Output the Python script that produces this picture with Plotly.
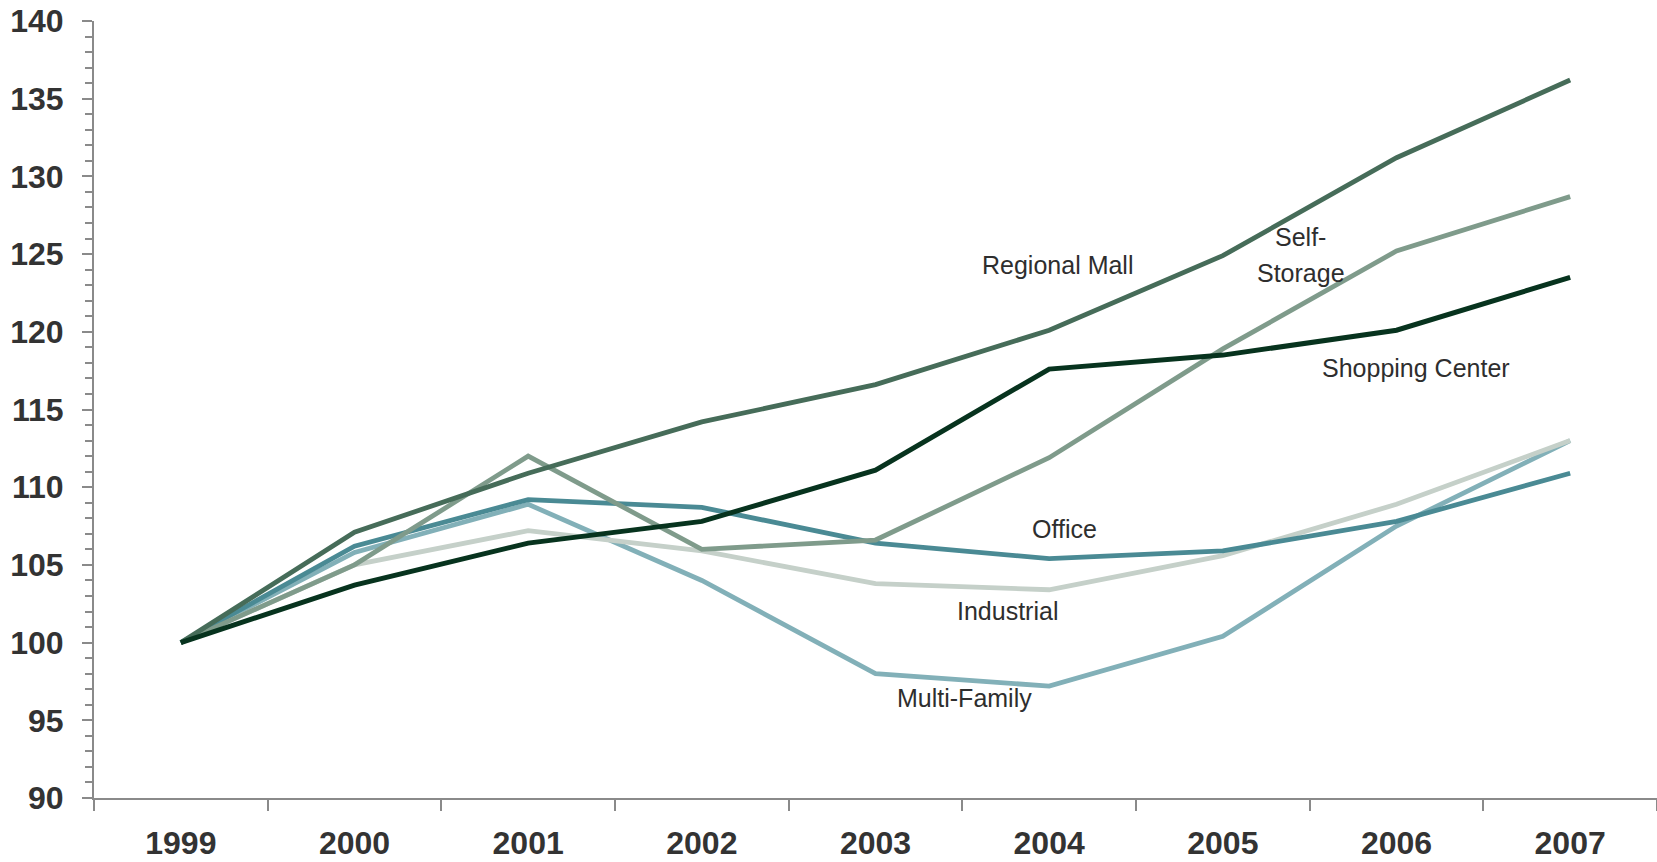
import plotly.graph_objects as go

# Index values by property type, 1999 = 100
years = ["1999", "2000", "2001", "2002", "2003", "2004", "2005", "2006", "2007"]

multi_family = [100, 105.8, 108.9, 104.0, 98.0, 97.2, 100.4, 107.5, 113.0]
industrial = [100, 105.0, 107.2, 105.9, 103.8, 103.4, 105.6, 108.9, 113.0]
office = [100, 106.2, 109.2, 108.7, 106.4, 105.4, 105.9, 107.8, 110.9]
self_storage = [100, 105.0, 112.0, 106.0, 106.6, 111.9, 118.9, 125.2, 128.7]
regional_mall = [100, 107.1, 110.9, 114.2, 116.6, 120.1, 124.9, 131.2, 136.2]
shopping_center = [100, 103.7, 106.4, 107.8, 111.1, 117.6, 118.5, 120.1, 123.5]

series = [
    ("Multi-Family", multi_family, "#82B0B8", 4.8),
    ("Industrial", industrial, "#C5D0C9", 4.8),
    ("Office", office, "#4A8A94", 4.8),
    ("Self-Storage", self_storage, "#7F9B8B", 4.8),
    ("Regional Mall", regional_mall, "#466C59", 4.8),
    ("Shopping Center", shopping_center, "#07331E", 5.0),
]

# In-chart series labels: (text, x category position, y value)
labels = [
    ("Regional Mall", 5.05, 124.3),
    ("Self-", 6.45, 126.1),
    ("Storage", 6.45, 123.8),
    ("Shopping Center", 7.11, 117.7),
    ("Office", 5.09, 107.3),
    ("Industrial", 4.76, 102.05),
    ("Multi-Family", 4.51, 96.45),
]

fig = go.Figure()
for name, vals, color, w in series:
    fig.add_trace(go.Scatter(
        x=years, y=vals, name=name, mode="lines",
        line=dict(color=color, width=w),
        showlegend=False, hoverinfo="skip",
    ))

for text, lx, ly in labels:
    fig.add_annotation(
        x=lx, y=ly, xref="x", yref="y", text=text, showarrow=False,
        font=dict(family="Liberation Sans, Arial, sans-serif", size=25, color="#2E2E2E"),
    )

axis_grey = "#8A8A8A"
tick_font = dict(family="Liberation Sans, Arial, sans-serif", size=32,
                 color="#333333", weight="bold")

fig.update_layout(
    width=1657, height=862,
    margin=dict(l=94, r=0, t=21, b=64),
    paper_bgcolor="white", plot_bgcolor="white",
    xaxis=dict(
        type="category", range=[-0.5, 8.5], automargin=False,
        tickson="boundaries", ticks="outside", ticklen=11,
        tickcolor=axis_grey, tickwidth=1.5,
        showline=True, linecolor=axis_grey, linewidth=2,
        showgrid=False, zeroline=False,
        tickfont=tick_font, ticklabelstandoff=16,
    ),
    yaxis=dict(
        range=[90, 140], tick0=90, dtick=5, automargin=False,
        ticks="outside", ticklen=10, tickcolor=axis_grey, tickwidth=1.5,
        minor=dict(dtick=1, ticks="outside", ticklen=7,
                   tickcolor=axis_grey, tickwidth=1.5, showgrid=False),
        showline=True, linecolor=axis_grey, linewidth=2,
        showgrid=False, zeroline=False,
        tickfont=tick_font, ticklabelstandoff=12,
    ),
)

fig.write_html("out.html")
